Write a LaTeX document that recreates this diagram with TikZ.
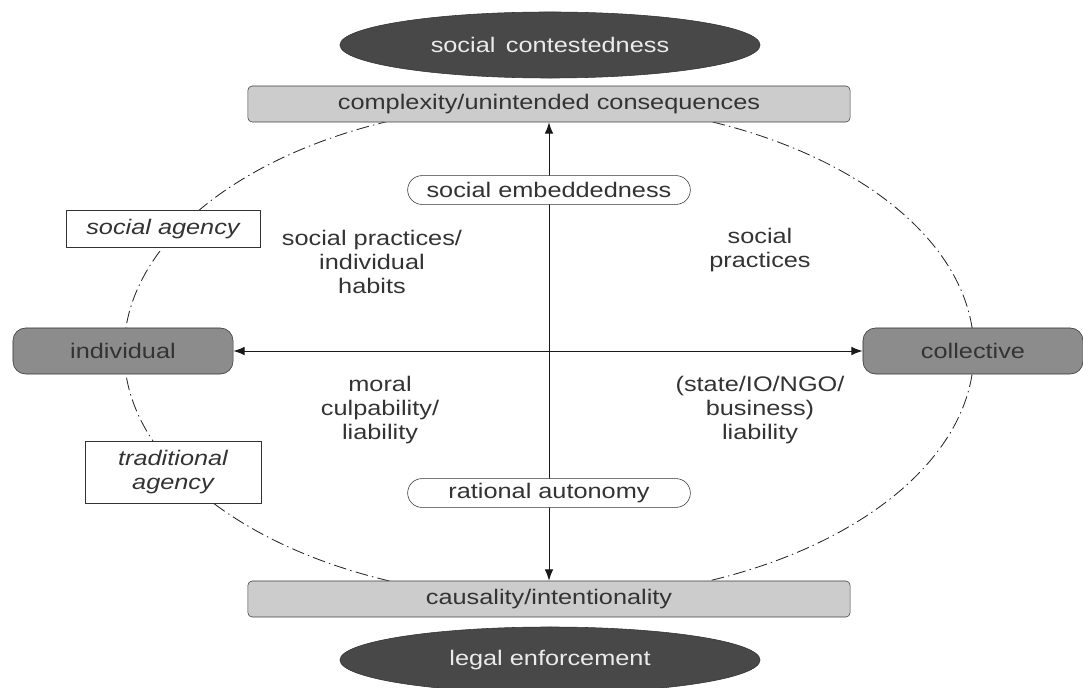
\documentclass[tikz,border=0pt]{standalone}
\usepackage{fontspec}
\setmainfont{Liberation Sans}[FakeStretch=1.2]
\usetikzlibrary{shapes.geometric,shapes.misc,arrows.meta}
\definecolor{darkell}{HTML}{484848}
\definecolor{lightbar}{HTML}{CCCCCC}
\definecolor{polefill}{HTML}{8C8C8C}
\definecolor{ink}{HTML}{333333}
\begin{document}
\begin{tikzpicture}[
    x=0.025cm, y=-0.025cm,
    every node/.style={font=\fontsize{15}{17}\selectfont, text=ink},
    ovalnode/.style={ellipse, fill=darkell, draw=black!80, text=black!8, minimum width=10.5cm, minimum height=1.65cm},
    barnode/.style={rectangle, rounded corners=3pt, draw=black!75, fill=lightbar, minimum width=15.05cm, minimum height=0.9cm},
    polenode/.style={rectangle, rounded corners=9pt, draw=black!80, fill=polefill, minimum width=5.5cm, minimum height=1.15cm},
    pillnode/.style={rounded rectangle, draw=black!80, fill=white, minimum width=7.3cm, minimum height=0.72cm, inner ysep=1pt},
    agencynode/.style={rectangle, draw=black!80, fill=white, align=center, font=\fontsize{15}{17}\selectfont\itshape},
    fieldtext/.style={align=center},
    axis/.style={draw=black!90, line width=0.7pt, {Latex[length=8pt,width=6pt]}-{Latex[length=8pt,width=6pt]}}
]
    % frame of the picture
    \useasboundingbox (0,0) rectangle (1083,688);

    % dash-dot ellipse behind everything
    \draw[black!85, line width=0.6pt, dash pattern=on 9pt off 3pt on 1pt off 3pt] (549,351) ellipse [x radius=10.62cm, y radius=6.2cm];

    % poles
    \node[ovalnode] (contest) at (550,45) {social\, contestedness};
    \node[barnode] (complex) at (549,104) {complexity/unintended consequences};
    \node[barnode] (causal) at (549,599) {causality/intentionality};
    \node[ovalnode] (legal) at (550,660) {legal enforcement};
    \node[polenode] (indiv) at (123,351) {individual};
    \node[polenode] (collect) at (973,351) {collective};

    % axes
    \draw[axis] (complex.south) -- (causal.north);
    \draw[axis] (indiv.east) -- (collect.west);

    % labels on the vertical axis
    \node[pillnode] (embed) at (549,190) {social embeddedness};
    \node[pillnode] (ratio) at (549,493) {rational autonomy};

    % agency boxes
    \node[agencynode, minimum width=4.85cm, minimum height=0.92cm] (socagency) at (163,229) {social agency};
    \node[agencynode, minimum width=4.4cm, minimum height=1.55cm] (tradagency) at (173,472) {traditional\\agency};

    % quadrant texts
    \node[fieldtext] (habits) at (372,262) {social practices/\\individual\\habits};
    \node[fieldtext] (practices) at (760,250) {social\\practices};
    \node[fieldtext] (moral) at (380,410) {moral\\culpability/\\liability};
    \node[fieldtext] (liab) at (760,410) {(state/IO/NGO/\\business)\\liability};
\end{tikzpicture}
\end{document}
